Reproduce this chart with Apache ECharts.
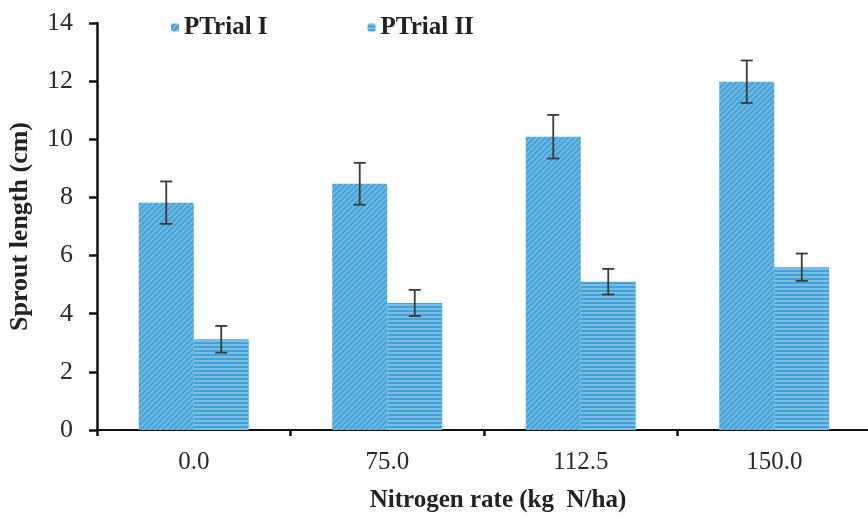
<!DOCTYPE html>
<html><head><meta charset="utf-8">
<script src="https://cdn.jsdelivr.net/npm/echarts@6/dist/echarts.min.js"></script>
<style>html,body{margin:0;padding:0;background:#fff}#c{width:868px;height:520px}</style>
</head><body><div id="c"></div>
<script>
const categories = ['0.0', '75.0', '112.5', '150.0'];
const trial1 = [7.82, 8.47, 10.09, 11.98];
const trial1Err = [0.73, 0.72, 0.75, 0.73];
const trial2 = [3.12, 4.37, 5.10, 5.60];
const trial2Err = [0.46, 0.45, 0.44, 0.47];
const yTicks = [0, 2, 4, 6, 8, 10, 12, 14];

const font = 'Liberation Serif, Times New Roman, serif';
const barColor = '#42a2d8';
const barW = 55;

function errSeries(vals, errs, offset) {
  return {
    type: 'custom',
    z: 10,
    data: vals.map((v, i) => [i, v - errs[i], v + errs[i]]),
    renderItem: function (params, api) {
      const lo = api.coord([api.value(0), api.value(1)]);
      const hi = api.coord([api.value(0), api.value(2)]);
      const x = lo[0] + offset;
      const hw = 6;
      const st = { stroke: '#3a3a3a', lineWidth: 1.8 };
      return {
        type: 'group',
        children: [
          { type: 'line', shape: { x1: x, y1: hi[1], x2: x, y2: lo[1] }, style: st },
          { type: 'line', shape: { x1: x - hw, y1: hi[1], x2: x + hw, y2: hi[1] }, style: st },
          { type: 'line', shape: { x1: x - hw, y1: lo[1], x2: x + hw, y2: lo[1] }, style: st }
        ]
      };
    }
  };
}

const chart = echarts.init(document.getElementById('c'));
chart.setOption({
  backgroundColor: '#fff',
  animation: false,
  legend: {
    top: 10, left: 166, itemGap: 100, itemWidth: 8, itemHeight: 8,
    data: ['PTrial I', 'PTrial II'],
    textStyle: { fontFamily: font, fontWeight: 'bold', fontSize: 25, color: '#222' }
  },
  grid: { left: 97, top: 23, width: 774, height: 407, containLabel: false, outerBoundsMode: 'none' },
  xAxis: {
    type: 'category', data: categories,
    axisLine: { lineStyle: { color: '#111', width: 2 } },
    axisTick: { show: true, length: 6, lineStyle: { color: '#111', width: 2.5 } },
    axisLabel: { fontFamily: font, fontSize: 25, color: '#2a2a2a', margin: 20 },
    name: 'Nitrogen rate (kg  N/ha)', nameLocation: 'middle', nameGap: 58,
    nameTextStyle: { fontFamily: font, fontWeight: 'bold', fontSize: 25, color: '#222', padding: [0, 0, 0, 28] }
  },
  yAxis: {
    type: 'value', min: 0, max: 14, interval: 2,
    axisLine: { show: true, lineStyle: { color: '#111', width: 2.5 } },
    axisTick: { show: true, length: 8, lineStyle: { color: '#111', width: 2.5 } },
    splitLine: { show: false },
    axisLabel: { fontFamily: font, fontSize: 26, color: '#2a2a2a', margin: 24 },
    name: 'Sprout length (cm)', nameLocation: 'middle', nameGap: 64,
    nameTextStyle: { fontFamily: font, fontWeight: 'bold', fontSize: 26, color: '#222' }
  },
  series: [
    {
      name: 'PTrial I', type: 'bar', data: trial1, barWidth: barW, barGap: '0%',
      itemStyle: {
        color: barColor,
        decal: { symbol: 'rect', dashArrayX: [1, 0], dashArrayY: [2, 2], rotation: -Math.PI / 4, color: 'rgba(255,255,255,0.25)' }
      }
    },
    {
      name: 'PTrial II', type: 'bar', data: trial2, barWidth: barW,
      itemStyle: {
        color: barColor,
        decal: { symbol: 'rect', dashArrayX: [1, 0], dashArrayY: [2, 2], rotation: 0, color: 'rgba(255,255,255,0.3)' }
      }
    },
    errSeries(trial1, trial1Err, -barW / 2),
    errSeries(trial2, trial2Err, barW / 2)
  ]
});
</script>
</body></html>
